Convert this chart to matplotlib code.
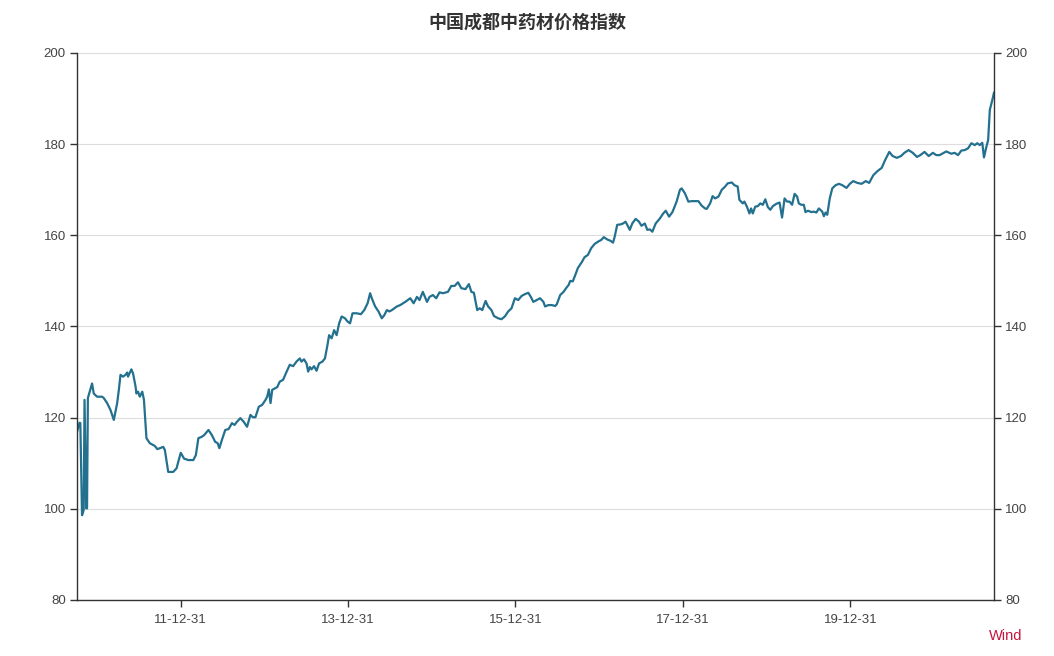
import matplotlib
matplotlib.use("Agg")
import matplotlib.pyplot as plt
import matplotlib.dates as mdates
import pandas as pd
import numpy as np

plt.rcParams['font.family'] = ['Noto Sans CJK SC', 'DejaVu Sans']

title = "中国成都中药材价格指数"
source = "Wind"

# decimal-year time stamps
years = [
    2010.76, 2010.79, 2010.80, 2010.82, 2010.84, 2010.85, 2010.87, 2010.88, 2010.89, 2010.93,
    2010.94, 2010.96, 2011.00, 2011.06, 2011.08, 2011.12, 2011.16, 2011.20, 2011.24, 2011.26,
    2011.28, 2011.31, 2011.34, 2011.36, 2011.37, 2011.41, 2011.43, 2011.46, 2011.47, 2011.49,
    2011.51, 2011.54, 2011.56, 2011.59, 2011.63, 2011.69, 2011.72, 2011.75, 2011.79, 2011.81,
    2011.85, 2011.91, 2011.95, 2011.97, 2012.00, 2012.04, 2012.09, 2012.15, 2012.18, 2012.21,
    2012.25, 2012.28, 2012.33, 2012.37, 2012.41, 2012.44, 2012.46, 2012.49, 2012.53, 2012.57,
    2012.61, 2012.64, 2012.67, 2012.71, 2012.75, 2012.79, 2012.83, 2012.86, 2012.89, 2012.93,
    2012.97, 2013.01, 2013.03, 2013.05, 2013.07, 2013.09, 2013.15, 2013.18, 2013.22, 2013.26,
    2013.30, 2013.34, 2013.38, 2013.42, 2013.44, 2013.47, 2013.50, 2013.52, 2013.54, 2013.56,
    2013.59, 2013.62, 2013.65, 2013.69, 2013.72, 2013.75, 2013.77, 2013.80, 2013.83, 2013.86,
    2013.89, 2013.92, 2013.96, 2013.99, 2014.02, 2014.05, 2014.10, 2014.15, 2014.19, 2014.23,
    2014.26, 2014.28, 2014.32, 2014.36, 2014.40, 2014.43, 2014.46, 2014.49, 2014.52, 2014.58,
    2014.62, 2014.68, 2014.74, 2014.78, 2014.82, 2014.85, 2014.89, 2014.94, 2014.97, 2015.01,
    2015.05, 2015.09, 2015.13, 2015.19, 2015.23, 2015.27, 2015.31, 2015.35, 2015.40, 2015.44,
    2015.47, 2015.50, 2015.54, 2015.57, 2015.60, 2015.64, 2015.67, 2015.71, 2015.74, 2015.79,
    2015.83, 2015.87, 2015.91, 2015.95, 2015.99, 2016.03, 2016.07, 2016.11, 2016.15, 2016.18,
    2016.21, 2016.25, 2016.29, 2016.33, 2016.35, 2016.39, 2016.43, 2016.47, 2016.49, 2016.53,
    2016.57, 2016.60, 2016.63, 2016.65, 2016.68, 2016.71, 2016.74, 2016.79, 2016.82, 2016.86,
    2016.90, 2016.94, 2016.98, 2017.02, 2017.05, 2017.09, 2017.13, 2017.16, 2017.18, 2017.21,
    2017.25, 2017.28, 2017.31, 2017.33, 2017.36, 2017.39, 2017.43, 2017.47, 2017.50, 2017.54,
    2017.57, 2017.60, 2017.63, 2017.67, 2017.72, 2017.76, 2017.79, 2017.83, 2017.87, 2017.92,
    2017.96, 2017.98, 2018.02, 2018.06, 2018.10, 2018.14, 2018.18, 2018.22, 2018.26, 2018.28,
    2018.32, 2018.35, 2018.38, 2018.42, 2018.46, 2018.50, 2018.53, 2018.58, 2018.61, 2018.65,
    2018.67, 2018.71, 2018.73, 2018.76, 2018.79, 2018.81, 2018.83, 2018.86, 2018.89, 2018.92,
    2018.95, 2018.98, 2019.01, 2019.04, 2019.07, 2019.11, 2019.15, 2019.18, 2019.21, 2019.24,
    2019.27, 2019.30, 2019.33, 2019.36, 2019.38, 2019.41, 2019.44, 2019.46, 2019.49, 2019.53,
    2019.56, 2019.59, 2019.62, 2019.66, 2019.68, 2019.70, 2019.72, 2019.75, 2019.78, 2019.82,
    2019.86, 2019.90, 2019.95, 2019.99, 2020.03, 2020.08, 2020.13, 2020.18, 2020.22, 2020.27,
    2020.32, 2020.37, 2020.41, 2020.46, 2020.50, 2020.55, 2020.60, 2020.64, 2020.69, 2020.74,
    2020.79, 2020.83, 2020.88, 2020.93, 2020.98, 2021.02, 2021.06, 2021.10, 2021.14, 2021.20,
    2021.24, 2021.28, 2021.32, 2021.36, 2021.40, 2021.44, 2021.48, 2021.51, 2021.54, 2021.57,
    2021.59, 2021.62, 2021.64, 2021.66, 2021.69, 2021.71,
]

index_values = [
    116.9, 118.9, 118.8, 98.6, 99.7, 123.9, 100.1, 100.1, 124.3, 126.8,
    127.5, 125.3, 124.6, 124.6, 124.3, 123.2, 121.7, 119.5, 123.2, 126.1,
    129.4, 129.0, 129.4, 129.9, 129.0, 130.6, 129.7, 126.8, 125.3, 125.7,
    124.6, 125.7, 123.9, 115.5, 114.4, 113.8, 113.1, 113.3, 113.6, 112.9,
    108.1, 108.1, 108.9, 110.3, 112.3, 111.0, 110.7, 110.7, 111.8, 115.5,
    115.8, 116.2, 117.3, 116.2, 114.7, 114.4, 113.3, 115.1, 117.3, 117.5,
    118.8, 118.4, 119.1, 119.9, 119.1, 118.0, 120.6, 120.1, 120.1, 122.4,
    122.8, 123.9, 124.6, 126.2, 123.2, 126.1, 126.7, 127.9, 128.3, 130.0,
    131.6, 131.3, 132.3, 133.0, 132.3, 132.8, 131.9, 130.1, 131.1, 130.6,
    131.3, 130.3, 131.9, 132.3, 133.0, 135.9, 138.1, 137.4, 139.2, 138.1,
    140.7, 142.2, 141.8, 141.1, 140.7, 142.9, 142.9, 142.7, 143.6, 145.1,
    147.3, 146.2, 144.4, 143.3, 141.8, 142.5, 143.6, 143.3, 143.6, 144.4,
    144.7, 145.4, 146.2, 145.1, 146.5, 145.8, 147.6, 145.4, 146.5, 146.9,
    146.2, 147.5, 147.3, 147.6, 148.9, 148.9, 149.7, 148.4, 148.2, 149.3,
    147.6, 147.4, 143.6, 144.0, 143.6, 145.6, 144.4, 143.6, 142.3, 141.8,
    141.6, 142.2, 143.3, 144.0, 146.2, 145.8, 146.7, 147.1, 147.4, 146.5,
    145.4, 145.8, 146.2, 145.4, 144.4, 144.7, 144.7, 144.5, 144.9, 146.9,
    147.6, 148.4, 149.1, 150.0, 149.9, 151.3, 152.8, 154.2, 155.2, 155.7,
    157.2, 158.1, 158.6, 159.0, 159.6, 159.1, 158.8, 158.4, 159.7, 162.3,
    162.4, 162.6, 163.0, 162.3, 161.2, 162.6, 163.6, 163.0, 162.1, 162.6,
    161.2, 161.3, 160.8, 162.6, 163.7, 164.8, 165.4, 164.1, 165.1, 167.4,
    170.0, 170.3, 169.2, 167.4, 167.5, 167.5, 167.5, 166.5, 165.9, 165.8,
    167.0, 168.6, 168.1, 168.5, 170.0, 170.7, 171.4, 171.6, 171.0, 170.7,
    167.8, 167.0, 167.4, 166.3, 164.8, 165.9, 164.8, 166.3, 166.4, 167.0,
    166.7, 167.9, 166.2, 165.6, 166.4, 166.9, 167.2, 163.9, 168.1, 167.4,
    167.4, 166.7, 169.1, 168.5, 167.0, 166.7, 166.7, 165.1, 165.4, 165.1,
    165.2, 165.0, 165.9, 165.2, 164.2, 165.0, 164.5, 168.1, 170.3, 171.0,
    171.3, 171.0, 170.4, 171.3, 171.9, 171.5, 171.3, 171.9, 171.5, 173.2,
    174.1, 174.8, 176.5, 178.3, 177.4, 177.0, 177.4, 178.1, 178.7, 178.1,
    177.2, 177.6, 178.3, 177.4, 178.1, 177.6, 177.6, 178.0, 178.4, 177.9,
    178.1, 177.6, 178.6, 178.7, 179.1, 180.2, 179.8, 180.2, 179.8, 180.3,
    177.1, 179.5, 180.9, 187.5, 189.7, 191.3,
]

y_ticks = [80, 100, 120, 140, 160, 180, 200]
x_tick_dates = ["2011-12-31", "2013-12-31", "2015-12-31", "2017-12-31", "2019-12-31"]


def to_datetime(yf):
    y = int(np.floor(yf))
    start = pd.Timestamp(year=y, month=1, day=1)
    days = 366 if (y % 4 == 0) else 365
    return start + pd.Timedelta(days=(yf - y) * days)


dates = [to_datetime(v) for v in years]

fig = plt.figure(figsize=(10.54, 6.56), dpi=100)
ax = fig.add_axes([77 / 1054, 56 / 656, 917 / 1054, 547 / 656])

line_color = "#23708f"
ax.plot(dates, index_values, color=line_color, linewidth=1.6, solid_joinstyle="round")

ax.set_ylim(80, 200)
ax.set_yticks(y_ticks)
ax.set_xlim(dates[0], dates[-1])
ax.set_xticks([pd.Timestamp(d) for d in x_tick_dates])
ax.xaxis.set_major_formatter(mdates.DateFormatter("%y-%m-%d"))

ax.grid(axis="y", color="#dddddd", linewidth=0.8)
ax.grid(axis="x", visible=False)
ax.set_axisbelow(True)

ax.spines["top"].set_visible(False)
for side in ["left", "right", "bottom"]:
    ax.spines[side].set_color("#333333")
    ax.spines[side].set_linewidth(1.0)

ax.tick_params(axis="x", direction="out", length=5, width=1, color="#333333",
               labelsize=9.5, labelcolor="#444444", pad=5)
ax.tick_params(axis="y", direction="out", length=5, width=1, color="#333333",
               labelsize=9.5, labelcolor="#444444", pad=3,
               left=True, right=True, labelleft=True, labelright=True)
for lab in ax.get_xticklabels() + ax.get_yticklabels():
    lab.set_family(["Liberation Sans", "DejaVu Sans"])

fig.text(527 / 1054, 1 - 22 / 656, title, ha="center", va="center",
         fontsize=13, fontweight="bold", color="#333333",
         family=["Noto Sans CJK SC", "DejaVu Sans"])
fig.text(1006 / 1054, 1 - 636 / 656, source, ha="center", va="center",
         fontsize=10.5, color="#c4163c", family=["Liberation Sans", "DejaVu Sans"])

fig.savefig("out.png", dpi=100)
